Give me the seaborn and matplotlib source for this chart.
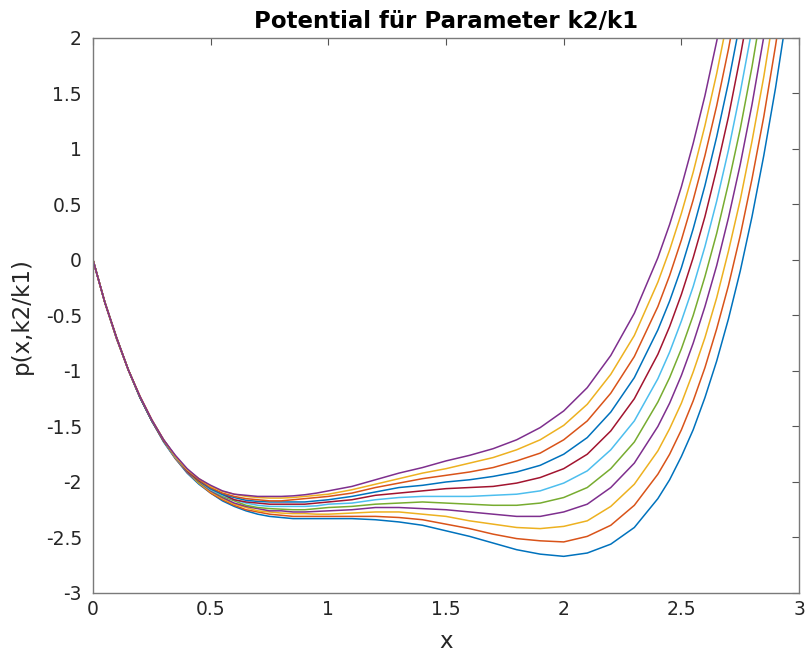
import numpy as np
import pandas as pd
import matplotlib
matplotlib.use("Agg")
import matplotlib.pyplot as plt
import seaborn as sns

# x grid shared by all curves (each curve stops once it has left the top of the plot)
x = [0, 0.05, 0.1, 0.15, 0.2, 0.25, 0.3, 0.35, 0.4, 0.45, 0.5, 0.55, 0.6, 0.65, 0.7, 0.75,
     0.8, 0.85, 0.9, 0.95, 1.0, 1.1, 1.2, 1.3, 1.4, 1.5, 1.6, 1.7, 1.8, 1.9, 2.0, 2.1, 2.2,
     2.3, 2.4, 2.45, 2.5, 2.55, 2.6, 2.65, 2.7, 2.75, 2.8, 2.85, 2.9, 2.95, 3.0]

# potential curves, lowest (1) to highest (11)
p1 = [0.00, -0.38, -0.71, -0.99, -1.24, -1.45, -1.64, -1.79, -1.92, -2.02, -2.10, -2.17, -2.22,
      -2.26, -2.29, -2.31, -2.32, -2.33, -2.33, -2.33, -2.33,
      -2.33, -2.34, -2.36, -2.39, -2.44, -2.49, -2.55, -2.61, -2.65, -2.67, -2.64, -2.56, -2.41,
      -2.15, -1.98, -1.77, -1.53, -1.24, -0.91, -0.53, -0.10, 0.39, 0.94, 1.55, 2.24]
p2 = [0.00, -0.38, -0.71, -0.99, -1.24, -1.45, -1.63, -1.79, -1.91, -2.01, -2.10, -2.16, -2.21,
      -2.25, -2.27, -2.29, -2.30, -2.31, -2.31, -2.31, -2.31,
      -2.31, -2.31, -2.32, -2.34, -2.38, -2.42, -2.47, -2.51, -2.53, -2.54, -2.49, -2.39, -2.21,
      -1.93, -1.75, -1.53, -1.27, -0.97, -0.62, -0.23, 0.22, 0.73, 1.29, 1.93, 2.63]
p3 = [0.00, -0.38, -0.70, -0.99, -1.24, -1.45, -1.63, -1.78, -1.91, -2.01, -2.09, -2.15, -2.20,
      -2.23, -2.26, -2.27, -2.28, -2.285, -2.285, -2.29, -2.29,
      -2.28, -2.27, -2.27, -2.29, -2.31, -2.35, -2.38, -2.41, -2.42, -2.40, -2.35, -2.22, -2.02,
      -1.72, -1.52, -1.29, -1.01, -0.70, -0.34, 0.08, 0.54, 1.07, 1.65, 2.31]
p4 = [0.00, -0.38, -0.70, -0.99, -1.24, -1.45, -1.63, -1.78, -1.91, -2.00, -2.08, -2.14, -2.19,
      -2.22, -2.24, -2.26, -2.26, -2.27, -2.27, -2.265, -2.26,
      -2.25, -2.23, -2.23, -2.24, -2.25, -2.27, -2.29, -2.31, -2.31, -2.27, -2.20, -2.05, -1.83,
      -1.50, -1.29, -1.04, -0.75, -0.42, -0.05, 0.38, 0.86, 1.40, 2.01]
p5 = [0.00, -0.38, -0.70, -0.99, -1.24, -1.45, -1.63, -1.78, -1.90, -2.00, -2.07, -2.13, -2.17,
      -2.21, -2.23, -2.24, -2.245, -2.25, -2.25, -2.24, -2.23,
      -2.22, -2.20, -2.19, -2.18, -2.19, -2.20, -2.21, -2.21, -2.19, -2.14, -2.05, -1.88, -1.64,
      -1.28, -1.06, -0.80, -0.50, -0.15, 0.24, 0.69, 1.18, 1.74, 2.37]
p6 = [0.00, -0.38, -0.70, -0.99, -1.24, -1.45, -1.63, -1.78, -1.90, -1.99, -2.07, -2.12, -2.16,
      -2.19, -2.21, -2.22, -2.22, -2.22, -2.22, -2.215, -2.20,
      -2.19, -2.16, -2.14, -2.13, -2.13, -2.13, -2.12, -2.11, -2.08, -2.01, -1.90, -1.71, -1.45,
      -1.07, -0.83, -0.55, -0.24, 0.12, 0.53, 0.99, 1.51, 2.08]
p7 = [0.00, -0.38, -0.70, -0.99, -1.24, -1.45, -1.63, -1.77, -1.90, -1.99, -2.06, -2.11, -2.16,
      -2.18, -2.19, -2.20, -2.20, -2.20, -2.20, -2.19, -2.18,
      -2.16, -2.12, -2.10, -2.08, -2.06, -2.05, -2.04, -2.01, -1.96, -1.88, -1.75, -1.54, -1.25,
      -0.85, -0.60, -0.31, 0.02, 0.39, 0.82, 1.29, 1.83, 2.42]
p8 = [0.00, -0.38, -0.70, -0.99, -1.24, -1.45, -1.62, -1.77, -1.89, -1.98, -2.06, -2.11, -2.14,
      -2.165, -2.175, -2.18, -2.18, -2.18, -2.18, -2.17, -2.16,
      -2.13, -2.09, -2.05, -2.03, -2.00, -1.98, -1.95, -1.91, -1.85, -1.75, -1.60, -1.37, -1.06,
      -0.63, -0.37, -0.07, 0.28, 0.67, 1.11, 1.60, 2.15]
p9 = [0.00, -0.38, -0.70, -0.99, -1.23, -1.44, -1.62, -1.77, -1.89, -1.98, -2.05, -2.10, -2.13,
      -2.15, -2.16, -2.17, -2.17, -2.16, -2.15, -2.14, -2.13,
      -2.10, -2.05, -2.01, -1.97, -1.94, -1.91, -1.87, -1.81, -1.74, -1.62, -1.45, -1.20, -0.87,
      -0.42, -0.14, 0.18, 0.54, 0.94, 1.39, 1.90, 2.47]
p10 = [0.00, -0.38, -0.70, -0.99, -1.23, -1.44, -1.62, -1.77, -1.89, -1.97, -2.04, -2.085, -2.11,
       -2.13, -2.14, -2.145, -2.145, -2.14, -2.13, -2.12, -2.11,
       -2.07, -2.02, -1.97, -1.92, -1.88, -1.83, -1.78, -1.71, -1.62, -1.49, -1.30, -1.03, -0.68,
       -0.20, 0.09, 0.42, 0.79, 1.21, 1.68, 2.21]
p11 = [0.00, -0.38, -0.70, -0.99, -1.23, -1.44, -1.62, -1.76, -1.88, -1.97, -2.03, -2.08, -2.11,
       -2.12, -2.13, -2.13, -2.13, -2.125, -2.115, -2.10, -2.08,
       -2.04, -1.98, -1.92, -1.87, -1.81, -1.76, -1.70, -1.62, -1.51, -1.36, -1.15, -0.86, -0.48,
       0.02, 0.32, 0.66, 1.05, 1.48, 1.97, 2.51]
curves = [p1, p2, p3, p4, p5, p6, p7, p8, p9, p10, p11]

xticks = [0, 0.5, 1, 1.5, 2, 2.5, 3]
xticklabels = ["0", "0.5", "1", "1.5", "2", "2.5", "3"]
yticks = [-3, -2.5, -2, -1.5, -1, -0.5, 0, 0.5, 1, 1.5, 2]
yticklabels = ["-3", "-2.5", "-2", "-1.5", "-1", "-0.5", "0", "0.5", "1", "1.5", "2"]

# MATLAB default colour order, cycled over the 11 curves
colors = ["#0072BD", "#D95319", "#EDB120", "#7E2F8E", "#77AC30", "#4DBEEE", "#A2142F",
          "#0072BD", "#D95319", "#EDB120", "#7E2F8E"]

rows = []
for i, y in enumerate(curves):
    for xv, yv in zip(x[:len(y)], y):
        rows.append((i, xv, yv))
df = pd.DataFrame(rows, columns=["k", "x", "p"])

sns.set_style("white")
plt.rcParams['font.family'] = ['DejaVu Sans']
fig = plt.figure(figsize=(8.06, 6.54), dpi=100)
ax = fig.add_axes([0.1154, 0.0933, 0.876, 0.8486])
sns.lineplot(data=df, x="x", y="p", hue="k", palette=colors, legend=False, ax=ax,
             linewidth=1.1, sort=False, estimator=None)
ax.set_xlim(0, 3)
ax.set_ylim(-3, 2)
ax.set_xticks(xticks)
ax.set_xticklabels(xticklabels)
ax.set_yticks(yticks)
ax.set_yticklabels(yticklabels)
for s in ax.spines.values():
    s.set_visible(True)
    s.set_color("#7a7a7a")
    s.set_linewidth(1.0)
ax.tick_params(direction="in", length=5, width=0.8, color="#555555", labelsize=13.5,
               labelcolor="#262626", top=True, right=True)
ax.tick_params(axis="x", pad=5)
ax.tick_params(axis="y", pad=8)
ax.set_xlabel("x", fontsize=16.5, color="#262626")
ax.set_ylabel("p(x,k2/k1)", fontsize=16.5, color="#262626")
ax.xaxis.set_label_coords(0.5, -0.066)
ax.yaxis.set_label_coords(-0.085, 0.5)
ax.set_title("Potential für Parameter k2/k1", fontsize=16.5, fontweight="bold",
             color="black", pad=7)
fig.savefig("out.png", dpi=100)
